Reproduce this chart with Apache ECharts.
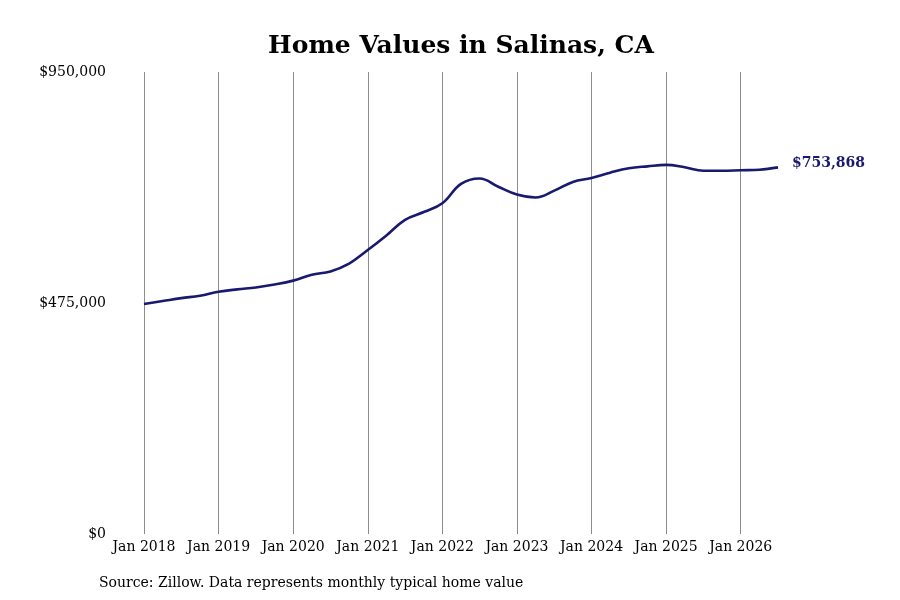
<!DOCTYPE html>
<html>
<head>
<meta charset="utf-8">
<script src="https://cdn.jsdelivr.net/npm/echarts@6/dist/echarts.min.js"></script>
<style>
  html, body { margin: 0; padding: 0; background: #fff; }
  #main { width: 900px; height: 600px; }
</style>
</head>
<body>
<div id="main"></div>
<script>
// quarterly readings, months counted from Jan 2018
var months = [0, 3, 6, 9, 12, 15, 18, 21, 24, 27, 30, 33, 36, 39, 42, 45, 48, 51, 54,
  57, 60, 63, 66, 69, 72, 75, 78, 81, 84, 87, 90, 93, 96, 99, 102];
var values = [473000, 479000, 485000, 490000, 498000, 503000, 507000, 513000, 521000,
  533000, 540000, 556000, 584000, 614000, 646000, 662000, 680000, 720000, 731000,
  714000, 698000, 692000, 706000, 724000, 732000, 743000, 752000, 756000, 759000,
  754000, 747000, 747000, 748000, 749000, 753868];
var yTicks = [0, 475000, 950000];
var startYear = 2018;

var seriesData = months.map(function (m, i) { return [m, values[i]]; });
var fmt = function (v) { return '$' + v.toLocaleString('en-US'); };
var serif = 'DejaVu Serif';

var myChart = echarts.init(document.getElementById('main'));

var option = {
  backgroundColor: '#fff',
  animation: false,
  title: [{
    text: 'Home Values in Salinas, CA',
    left: 456,
    top: 29,
    textAlign: 'center',
    textStyle: { fontFamily: serif, fontWeight: 'bold', fontSize: 25, color: '#000' }
  }, {
    text: 'Source: Zillow. Data represents monthly typical home value',
    left: 94,
    top: 571,
    textStyle: { fontFamily: serif, fontWeight: 'normal', fontSize: 14, color: '#000' }
  }],
  grid: { left: 144, right: 122, top: 72, bottom: 66 },
  xAxis: {
    type: 'value',
    min: 0,
    max: 102,
    interval: 12,
    axisLine: { show: false },
    axisTick: { show: false },
    splitLine: { show: true, showMaxLine: false, lineStyle: { color: '#8c8c8c', width: 1 } },
    axisLabel: {
      fontFamily: serif, fontSize: 14, color: '#000', margin: 6,
      showMaxLabel: false,
      formatter: function (v) { return 'Jan ' + (startYear + v / 12); }
    }
  },
  yAxis: {
    type: 'value',
    min: 0,
    max: 950000,
    interval: 475000,
    axisLine: { show: false },
    axisTick: { show: false },
    splitLine: { show: false },
    axisLabel: {
      fontFamily: serif, fontSize: 14, color: '#000', margin: 38,
      verticalAlign: 'middle',
      formatter: function (v) { return yTicks.indexOf(v) >= 0 ? fmt(v) : ''; }
    }
  },
  series: [{
    type: 'line',
    data: seriesData,
    smooth: 0.4,
    showSymbol: false,
    lineStyle: { color: '#191970', width: 2.6 },
    endLabel: {
      show: true,
      formatter: function (p) { return fmt(p.value[1]); },
      fontFamily: serif, fontWeight: 'bold', fontSize: 14, color: '#191970',
      distance: 14,
      offset: [0, -4]
    }
  }]
};

myChart.setOption(option);
window.addEventListener('resize', function () { myChart.resize(); });
</script>
</body>
</html>
